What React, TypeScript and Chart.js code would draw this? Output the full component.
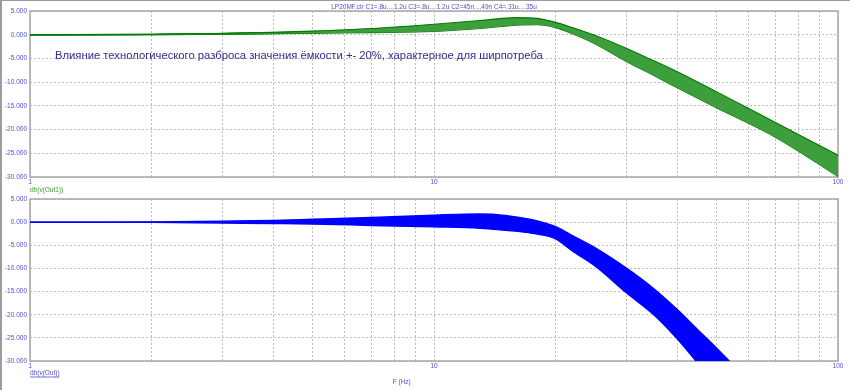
import React, { useEffect, useRef } from "react";
import { Chart, registerables } from "chart.js";

Chart.register(...registerables);

// ---- axis / tick data ----
const X_GRID_TICKS = [1, 2, 3, 4, 5, 6, 7, 8, 9, 10, 20, 30, 40, 50, 60, 70, 80, 90, 100];
const X_LABELED = [1, 10, 100];
const Y_MIN = -30;
const Y_MAX = 5;
const Y_STEP = 5;

// ---- texts ----
const TITLE = "LP20MF.cir C1=.8u....1.2u C3=.8u....1.2u C2=45n....49n C4=.31u....35u";
const NOTE = "Влияние технологического разброса значения ёмкости +- 20%, характерное для ширпотреба";
const TOP_TRACE_LABEL = "db(v(Out1))";
const BOTTOM_TRACE_LABEL = "db(v(Out))";
const X_AXIS_TITLE = "F (Hz)";

// ---- top panel: db(v(Out1)) family of curves ----
const F_TOP = [1, 2, 3, 4, 5, 7, 10, 13, 16, 18, 20, 22, 25, 30, 35, 40, 50, 70, 100];
const OUT1_A = [0, 0.08, 0.3, 0.5, 0.75, 1.3, 2.2, 3.0, 3.6, 3.45, 2.6, 1.5, -0.1, -2.9, -5.5, -7.8, -12.0, -18.5, -25.4];
const OUT1_B = [0, 0.07, 0.26, 0.45, 0.66, 1.15, 1.95, 2.75, 3.35, 3.25, 2.4, 1.25, -0.45, -3.4, -6.1, -8.4, -12.6, -19.1, -26.2];
const OUT1_C = [0, 0.05, 0.22, 0.4, 0.58, 1.0, 1.7, 2.5, 3.1, 3.05, 2.2, 1.0, -0.8, -3.9, -6.7, -9.0, -13.2, -19.7, -27.0];
const OUT1_D = [0, 0.04, 0.19, 0.34, 0.5, 0.85, 1.45, 2.2, 2.85, 2.8, 2.0, 0.8, -1.1, -4.4, -7.3, -9.7, -13.9, -20.3, -27.8];
const OUT1_E = [0, 0.03, 0.15, 0.29, 0.42, 0.7, 1.15, 1.9, 2.55, 2.55, 1.85, 0.55, -1.4, -4.9, -7.8, -10.3, -14.5, -20.8, -28.6];
const OUT1_F = [0, 0.02, 0.12, 0.24, 0.35, 0.56, 0.9, 1.6, 2.25, 2.3, 1.7, 0.4, -1.7, -5.3, -8.2, -10.8, -15.0, -21.2, -29.2];
const OUT1_G = [0, 0.0, 0.1, 0.2, 0.3, 0.45, 0.7, 1.3, 2.0, 2.1, 1.5, 0.2, -1.9, -5.7, -8.6, -11.2, -15.4, -21.6, -29.9];

// ---- bottom panel: db(v(Out)) envelope ----
const F_BOT = [1, 1.5, 2, 3, 4, 5, 7, 10, 13, 15, 17.5, 20, 22, 25, 30, 35, 40, 45, 50, 60];
const OUT_HIGH = [0, 0, 0.05, 0.2, 0.35, 0.6, 1.0, 1.5, 1.75, 1.45, 0.5, -1.0, -2.9, -5.5, -10.0, -14.4, -18.9, -23.3, -27.2, -34.3];
const OUT_LOW = [0, 0, -0.05, -0.2, -0.3, -0.4, -0.7, -1.0, -1.3, -1.75, -2.4, -3.6, -6.2, -9.4, -15.3, -20.0, -25.2, -30.5, -35.5, -45];

// ---- styles ----
const FONT = "'Liberation Sans', Arial, sans-serif";
const TICK_COLOR = "#4f4fd6";
const GRID_COLOR = "#bcbcbc";
const FRAME_COLOR = "#a6a6a6";
const GREEN_LINE = "#007a00";
const GREEN_FILL = "#3c9f3c";
const BLUE = "#0000ff";

function series(xs: number[], ys: number[], color: string, width: number, extra: any = {}) {
  return {
    data: xs.map((x, i) => ({ x, y: ys[i] })),
    borderColor: color,
    borderWidth: width,
    pointRadius: 0,
    cubicInterpolationMode: "monotone",
    fill: false,
    ...extra,
  };
}

function makeScales(xAxisHeight: number) {
  return {
    x: {
      type: "logarithmic",
      min: 1,
      max: 100,
      afterBuildTicks: (s: any) => {
        s.ticks = X_GRID_TICKS.map((v) => ({ value: v }));
      },
      afterFit: (s: any) => {
        s.height = xAxisHeight;
      },
      grid: { color: GRID_COLOR, lineWidth: 1, drawTicks: false },
      border: { display: false, dash: [2, 2] },
      ticks: {
        autoSkip: false,
        maxRotation: 0,
        minRotation: 0,
        padding: 1,
        color: TICK_COLOR,
        font: { family: FONT, size: 6.5 },
        callback: (v: any) => (X_LABELED.includes(Number(v)) ? String(v) : ""),
      },
    },
    y: {
      type: "linear",
      min: Y_MIN,
      max: Y_MAX,
      afterFit: (s: any) => {
        s.width = 30;
      },
      grid: { color: GRID_COLOR, lineWidth: 1, drawTicks: false },
      border: { display: false, dash: [2, 2] },
      ticks: {
        stepSize: Y_STEP,
        padding: 3,
        color: TICK_COLOR,
        font: { family: FONT, size: 6.5 },
        callback: (v: any) => Number(v).toFixed(3),
      },
    },
  };
}

const framePlugin = {
  id: "frame",
  beforeDatasetsDraw(chart: any) {
    const { ctx, chartArea: a } = chart;
    ctx.save();
    ctx.strokeStyle = FRAME_COLOR;
    ctx.lineWidth = 1.5;
    ctx.strokeRect(a.left, a.top, a.right - a.left, a.bottom - a.top);
    ctx.restore();
  },
};

const topTextPlugin = {
  id: "topTexts",
  afterDraw(chart: any) {
    const { ctx, chartArea: a } = chart;
    ctx.save();
    ctx.textBaseline = "middle";
    ctx.textAlign = "center";
    ctx.fillStyle = TICK_COLOR;
    ctx.font = `6.5px ${FONT}`;
    ctx.fillText(TITLE, (a.left + a.right) / 2, a.top - 4);
    ctx.textAlign = "left";
    ctx.fillStyle = "#2e2e92";
    ctx.font = `11.25px ${FONT}`;
    ctx.fillText(NOTE, a.left + 25, a.top + 45);
    ctx.fillStyle = "#3c9c3c";
    ctx.font = `6.5px ${FONT}`;
    ctx.fillText(TOP_TRACE_LABEL, a.left, a.bottom + 13);
    ctx.restore();
  },
};

const bottomTextPlugin = {
  id: "bottomTexts",
  afterDraw(chart: any) {
    const { ctx, chartArea: a } = chart;
    ctx.save();
    ctx.textBaseline = "middle";
    ctx.textAlign = "left";
    ctx.fillStyle = TICK_COLOR;
    ctx.font = `6.5px ${FONT}`;
    const y = a.bottom + 12;
    ctx.fillText(BOTTOM_TRACE_LABEL, a.left, y);
    const w = ctx.measureText(BOTTOM_TRACE_LABEL).width;
    ctx.strokeStyle = TICK_COLOR;
    ctx.lineWidth = 0.8;
    ctx.beginPath();
    ctx.moveTo(a.left, y + 4);
    ctx.lineTo(a.left + w, y + 4);
    ctx.stroke();
    ctx.textAlign = "center";
    ctx.fillText(X_AXIS_TITLE, a.left + (a.right - a.left) * 0.46, a.bottom + 21);
    ctx.restore();
  },
};

export default function App() {
  const topRef = useRef<HTMLCanvasElement>(null);
  const botRef = useRef<HTMLCanvasElement>(null);

  useEffect(() => {
    const greens = [OUT1_A, OUT1_B, OUT1_C, OUT1_D, OUT1_E, OUT1_F, OUT1_G];
    const topChart = new Chart(topRef.current as HTMLCanvasElement, {
      type: "line",
      data: {
        datasets: greens.map((ys, i) =>
          series(F_TOP, ys, GREEN_LINE, 1.1, i === 0 ? { fill: { target: greens.length - 1 }, backgroundColor: GREEN_FILL } : {})
        ),
      } as any,
      options: {
        animation: false,
        responsive: false,
        devicePixelRatio: 1,
        layout: { padding: { top: 11, right: 12, left: 0, bottom: 0 } },
        plugins: { legend: { display: false }, tooltip: { enabled: false }, title: { display: false } },
        scales: makeScales(23) as any,
      },
      plugins: [framePlugin, topTextPlugin],
    });

    const botChart = new Chart(botRef.current as HTMLCanvasElement, {
      type: "line",
      data: {
        datasets: [
          series(F_BOT, OUT_HIGH, BLUE, 1.5, { fill: { target: 1 }, backgroundColor: BLUE }),
          series(F_BOT, OUT_LOW, BLUE, 1.5),
        ],
      } as any,
      options: {
        animation: false,
        responsive: false,
        devicePixelRatio: 1,
        layout: { padding: { top: 14, right: 12, left: 0, bottom: 0 } },
        plugins: { legend: { display: false }, tooltip: { enabled: false }, title: { display: false } },
        scales: makeScales(29) as any,
      },
      plugins: [framePlugin, bottomTextPlugin],
    });

    return () => {
      topChart.destroy();
      botChart.destroy();
    };
  }, []);

  return (
    <div style={{ position: "fixed", left: 0, top: 0, width: 850, height: 390, background: "#ffffff", overflow: "hidden" }}>
      <canvas ref={topRef} width={850} height={200} style={{ position: "absolute", left: 0, top: 0, width: 850, height: 200 }} />
      <canvas ref={botRef} width={850} height={205} style={{ position: "absolute", left: 0, top: 185, width: 850, height: 205 }} />
      <div style={{ position: "absolute", left: 0, top: 0, width: 850, height: 1, background: "#9c9c9c" }} />
      <div style={{ position: "absolute", left: 0, top: 0, width: 2, height: 390, background: "#9c9c9c" }} />
    </div>
  );
}
